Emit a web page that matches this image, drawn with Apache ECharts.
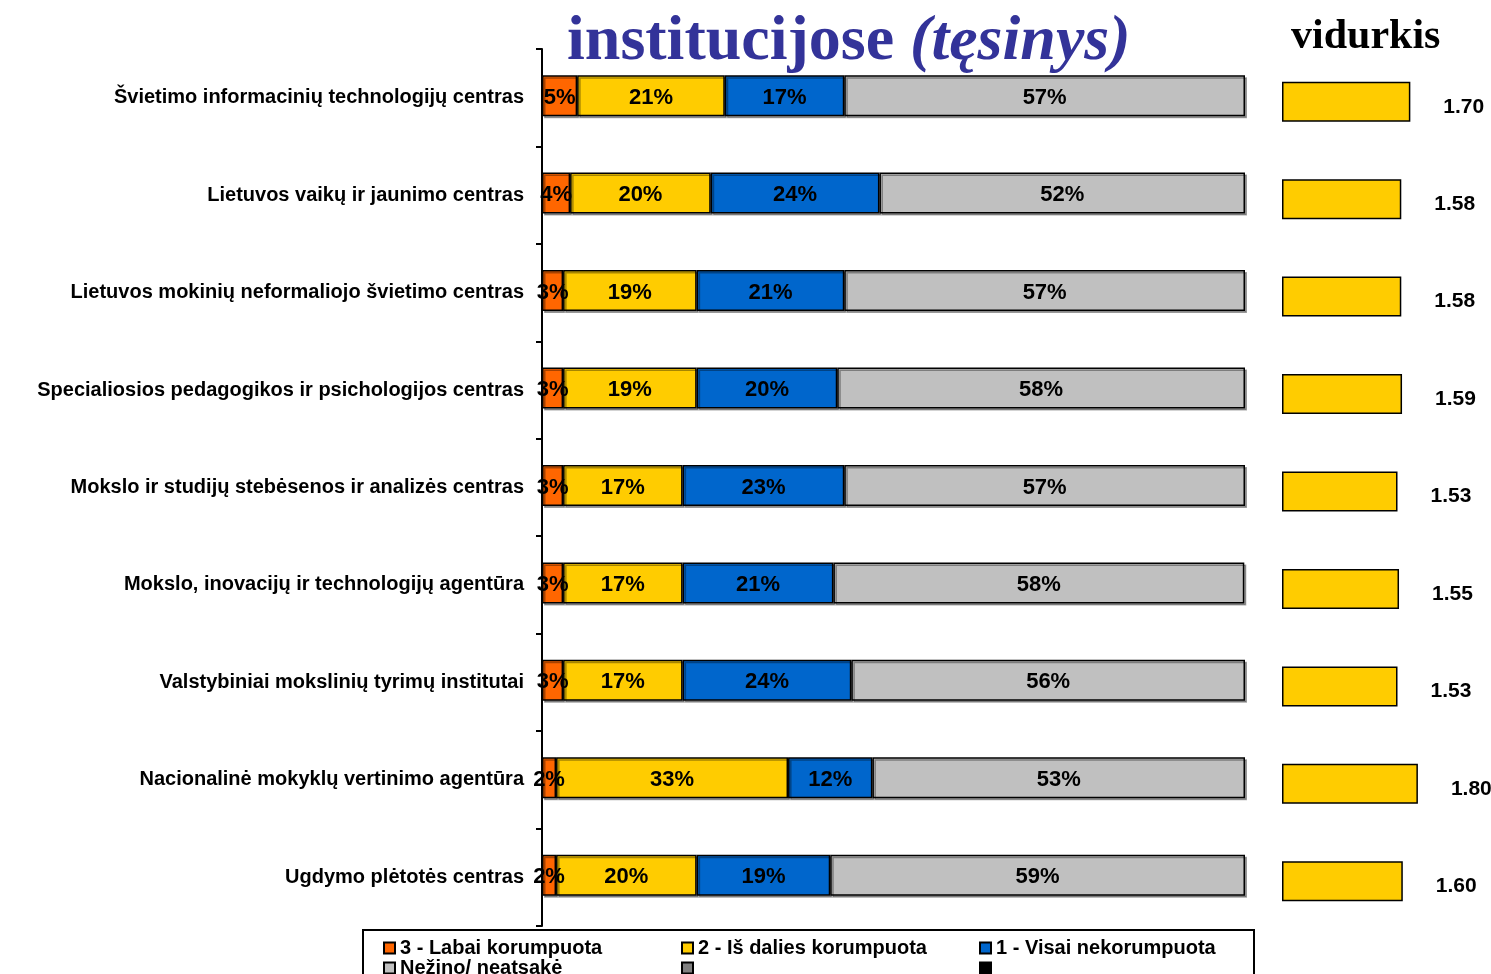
<!DOCTYPE html>
<html>
<head>
<meta charset="utf-8">
<script src="https://cdn.jsdelivr.net/npm/echarts@6/dist/echarts.min.js"></script>
<style>
  html, body { margin: 0; background: #fff; }
  #chart { width: 1491px; height: 974px; }
</style>
</head>
<body>
<div id="chart"></div>
<script>
// kategorijos (iš viršaus į apačią)
const categories = [
  'Švietimo informacinių technologijų centras',
  'Lietuvos vaikų ir jaunimo centras',
  'Lietuvos mokinių neformaliojo švietimo centras',
  'Specialiosios pedagogikos ir psichologijos centras',
  'Mokslo ir studijų stebėsenos ir analizės centras',
  'Mokslo, inovacijų ir technologijų agentūra',
  'Valstybiniai mokslinių tyrimų institutai',
  'Nacionalinė mokyklų vertinimo agentūra',
  'Ugdymo plėtotės centras'
];
const labaiKorumpuota = [5, 4, 3, 3, 3, 3, 3, 2, 2];
const isDaliesKorumpuota = [21, 20, 19, 19, 17, 17, 17, 33, 20];
const visaiNekorumpuota = [17, 24, 21, 20, 23, 21.45, 24, 12, 19];
const nezino = [57, 52, 57, 58, 57, 58.45, 56, 53, 59];
const vidurkis = [1.70, 1.58, 1.58, 1.59, 1.53, 1.55, 1.53, 1.80, 1.60];

const seriesNames = ['3 - Labai korumpuota', '2 - Iš dalies korumpuota', '1 - Visai nekorumpuota', 'Nežino/ neatsakė', ' ', '  '];
const colors = ['#FF6600', '#FFCC00', '#0066CC', '#C0C0C0', '#808080', '#000000'];

const chart = echarts.init(document.getElementById('chart'));

const pctLabel = {
  show: true,
  position: 'inside',
  offset: [0, 2],
  color: '#000',
  fontFamily: 'Liberation Sans',
  fontWeight: 'bold',
  fontSize: 22,
  formatter: p => Math.round(p.value) + '%'
};

const barStyle = c => ({
  color: c,
  borderColor: '#000',
  borderWidth: 1.5,
  shadowColor: 'rgba(0,0,0,0.35)',
  shadowOffsetX: 2,
  shadowOffsetY: 2,
  shadowBlur: 0
});

const stackData = [labaiKorumpuota, isDaliesKorumpuota, visaiNekorumpuota, nezino];

const series = stackData.map((d, i) => ({
  name: seriesNames[i],
  type: 'bar',
  stack: 'viso',
  barWidth: 41,
  data: d,
  label: pctLabel,
  itemStyle: barStyle(colors[i]),
  emphasis: { disabled: true }
}));

// tušti legendos elementai
series.push({ name: seriesNames[4], type: 'bar', data: [], itemStyle: barStyle(colors[4]) });
series.push({ name: seriesNames[5], type: 'bar', data: [], itemStyle: barStyle(colors[5]) });

// vidurkis
series.push({
  name: 'vidurkis',
  type: 'bar',
  xAxisIndex: 1,
  yAxisIndex: 1,
  barWidth: 40,
  data: vidurkis,
  itemStyle: { color: '#FFCC00', borderColor: '#000', borderWidth: 1.5 },
  label: {
    show: true,
    position: 'right',
    distance: 33,
    offset: [0, 5],
    color: '#000',
    fontFamily: 'Liberation Sans',
    fontWeight: 'bold',
    fontSize: 21,
    formatter: p => p.value.toFixed(2)
  },
  emphasis: { disabled: true }
});

const legendText = w => ({ width: w });

chart.setOption({
  animation: false,
  title: [
    {
      text: '{a|institucijose} {b|(tęsinys)}',
      left: 562,
      top: 5,
      textStyle: {
        fontSize: 64,
        fontFamily: 'Liberation Serif',
        fontWeight: 'bold',
        color: '#333399',
        rich: {
          a: { fontSize: 64, fontFamily: 'Liberation Serif', fontWeight: 'bold', color: '#333399' },
          b: { fontSize: 64, fontFamily: 'Liberation Serif', fontWeight: 'bold', fontStyle: 'italic', color: '#333399' }
        }
      }
    },
    {
      text: 'vidurkis',
      left: 1286,
      top: 11,
      textStyle: { fontSize: 42, fontFamily: 'Liberation Serif', fontWeight: 'bold', color: '#000' }
    }
  ],
  legend: {
    left: 363,
    top: 930,
    width: 870,
    orient: 'horizontal',
    itemGap: 0,
    itemWidth: 11,
    itemHeight: 11,
    icon: 'rect',
    padding: [8, 23, 40, 20],
    borderColor: '#000',
    borderWidth: 2,
    selectedMode: false,
    textStyle: {
      fontFamily: 'Liberation Sans',
      fontWeight: 'bold',
      fontSize: 20,
      lineHeight: 18,
      color: '#000'
    },
    data: [
      { name: seriesNames[0], textStyle: legendText(281) },
      { name: seriesNames[1], textStyle: legendText(281) },
      { name: seriesNames[2], textStyle: legendText(235) },
      { name: seriesNames[3], textStyle: legendText(281) },
      { name: seriesNames[4], textStyle: legendText(281) },
      { name: seriesNames[5], textStyle: legendText(235) }
    ]
  },
  grid: [
    { left: 542, width: 703, top: 49, height: 877 },
    { left: 1282, width: 151, top: 53, height: 877 }
  ],
  xAxis: [
    { type: 'value', gridIndex: 0, min: 0, max: 100, show: false },
    { type: 'value', gridIndex: 1, min: 0, max: 2, show: false }
  ],
  yAxis: [
    {
      type: 'category',
      gridIndex: 0,
      inverse: true,
      data: categories,
      axisLine: { lineStyle: { color: '#000', width: 2 } },
      axisTick: { show: true, length: 6, lineStyle: { color: '#000', width: 2 } },
      axisLabel: {
        margin: 18,
        color: '#000',
        fontFamily: 'Liberation Sans',
        fontWeight: 'bold',
        fontSize: 20
      }
    },
    { type: 'category', gridIndex: 1, inverse: true, data: categories, show: false }
  ],
  series: series
});
</script>
</body>
</html>
